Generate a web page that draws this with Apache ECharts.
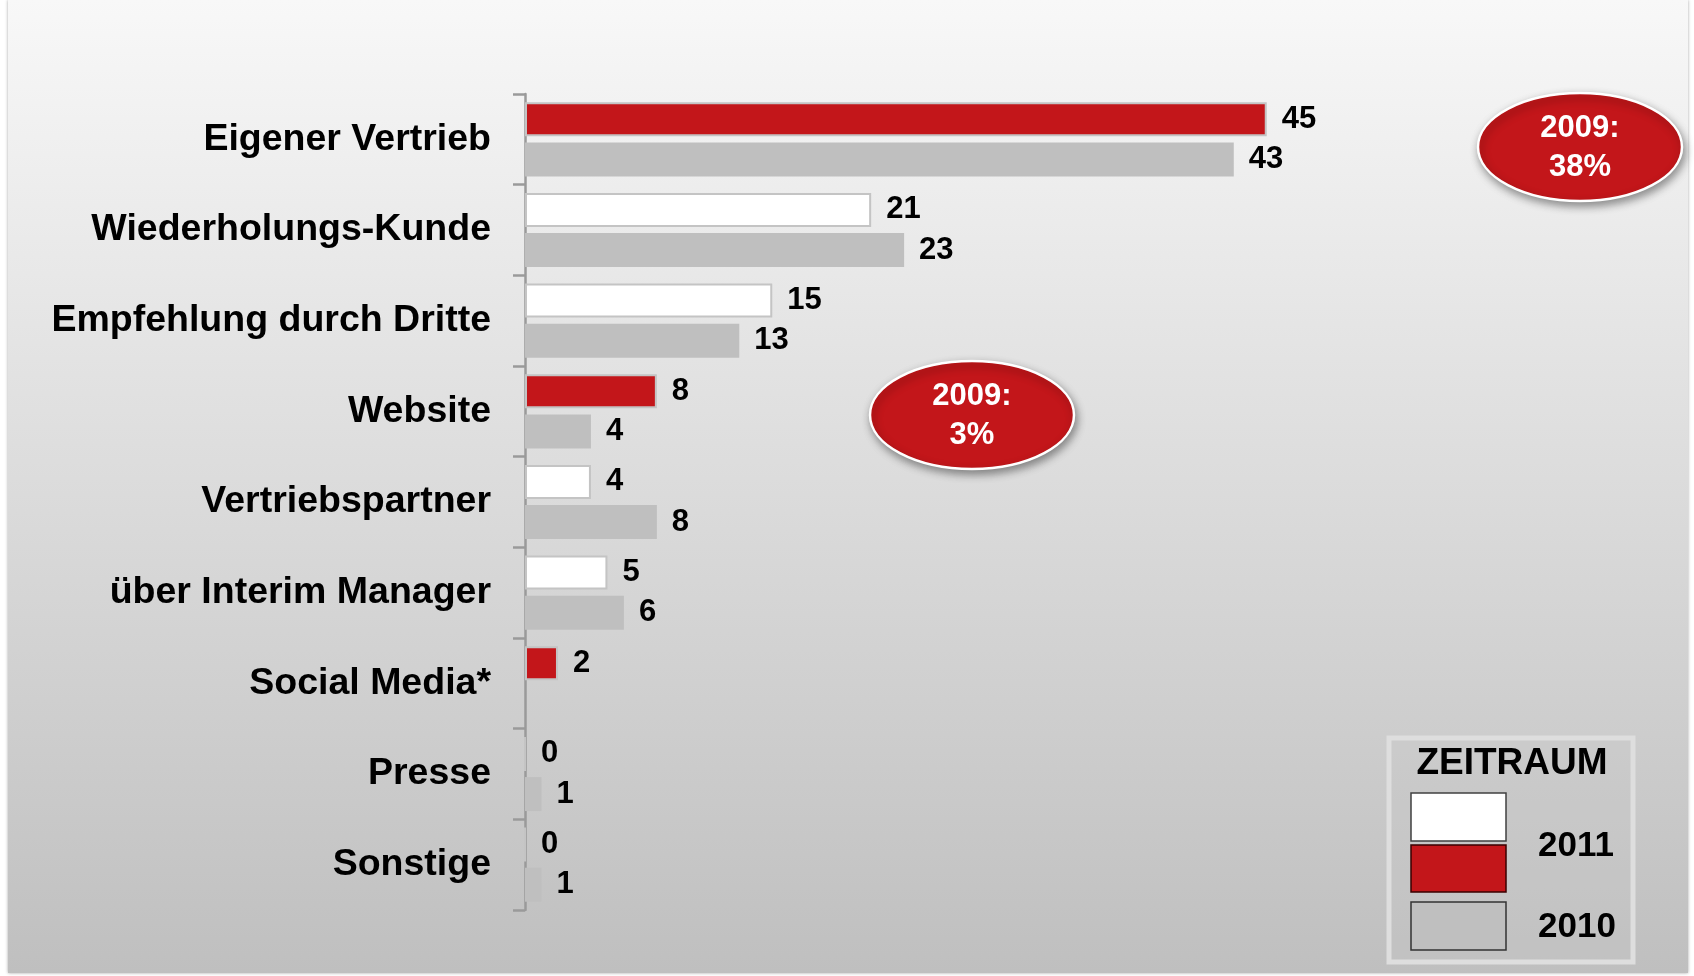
<!DOCTYPE html>
<html>
<head>
<meta charset="utf-8">
<style>
  html, body { margin: 0; padding: 0; background: #fff; }
  #chart { width: 1694px; height: 976px; }
</style>
<script src="https://cdn.jsdelivr.net/npm/echarts@6/dist/echarts.min.js"></script>
</head>
<body>
<div id="chart"></div>
<script>
const categories = ['Eigener Vertrieb', 'Wiederholungs-Kunde', 'Empfehlung durch Dritte', 'Website', 'Vertriebspartner', 'über Interim Manager', 'Social Media*', 'Presse', 'Sonstige'];
const values2011 = [45, 21, 15, 8, 4, 5, 2, 0, 0];
const values2010 = [43, 23, 13, 4, 8, 6, null, 1, 1];
const highlighted = ['Eigener Vertrieb', 'Website', 'Social Media*'];
const notes = ['2009:\n38%', '2009:\n3%'];
const legendTitle = 'ZEITRAUM';
const legendYears = ['2011', '2010'];

const FONT = "'Liberation Sans', Arial, sans-serif";
const RED = '#c3161a';
const GREY = '#bfbfbf';

const chart = echarts.init(document.getElementById('chart'));

// 2011 bars: red for the highlighted channels, white otherwise
const data2011 = values2011.map((v, i) => ({
	value: v,
	itemStyle: { color: highlighted.includes(categories[i]) ? RED : '#ffffff' },
}));

const valueLabel = {
	show: true,
	position: 'right',
	distance: 15,
	color: '#000',
	fontFamily: FONT,
	fontWeight: 'bold',
	fontSize: 31,
};

function noteEllipse(cx, cy, text) {
	return [
		{
			type: 'ellipse',
			z: 100,
			shape: { cx: cx, cy: cy, rx: 102, ry: 54 },
			style: {
				fill: RED,
				stroke: '#ffffff',
				lineWidth: 2.5,
				shadowBlur: 8,
				shadowOffsetX: 2,
				shadowOffsetY: 4,
				shadowColor: 'rgba(0,0,0,0.4)',
			},
		},
		{
			type: 'text',
			z: 101,
			x: cx,
			y: cy + 1,
			style: {
				text: text,
				fill: '#ffffff',
				font: 'bold 31px ' + FONT,
				align: 'center',
				verticalAlign: 'middle',
				lineHeight: 39,
			},
		},
	];
}

const option = {
	backgroundColor: '#ffffff',
	animation: false,
	grid: {
		left: 525,
		right: 180,
		top: 94,
		bottom: 66,
	},
	xAxis: {
		type: 'value',
		min: 0,
		max: 60,
		show: false,
	},
	yAxis: {
		type: 'category',
		inverse: true,
		data: categories,
		axisLine: {
			show: true,
			lineStyle: { color: '#9a9a9a', width: 2.5 },
		},
		axisTick: {
			show: true,
			length: 12,
			lineStyle: { color: '#9a9a9a', width: 2.5 },
		},
		axisLabel: {
			margin: 34,
			color: '#000',
			fontFamily: FONT,
			fontWeight: 'bold',
			fontSize: 37.5,
		},
	},
	series: [
		{
			name: '2011',
			type: 'bar',
			data: data2011,
			barWidth: 34,
			barGap: '18%',
			itemStyle: { borderColor: '#c4c4c4', borderWidth: 2 },
			label: valueLabel,
		},
		{
			name: '2010',
			type: 'bar',
			data: values2010,
			barWidth: 34,
			barGap: '18%',
			itemStyle: { color: GREY },
			label: valueLabel,
		},
	],
	graphic: [
		{
			type: 'rect',
			z: -10,
			silent: true,
			shape: { x: 8, y: 0, width: 1680, height: 973 },
			style: {
				fill: new echarts.graphic.LinearGradient(0, 0, 0, 1, [
					{ offset: 0, color: '#f8f8f8' },
					{ offset: 1, color: '#bfbfbf' },
				]),
				shadowBlur: 3,
				shadowColor: 'rgba(0,0,0,0.35)',
			},
		},
		...noteEllipse(1580, 147, notes[0]),
		...noteEllipse(972, 415, notes[1]),
		// legend box
		{
			type: 'rect',
			z: 100,
			shape: { x: 1389, y: 738, width: 244, height: 224 },
			style: { fill: 'rgba(200,200,200,0.25)', stroke: '#dedede', lineWidth: 5 },
		},
		{
			type: 'text',
			z: 101,
			x: 1512,
			y: 764,
			style: {
				text: legendTitle,
				fill: '#000',
				font: 'bold 37px ' + FONT,
				align: 'center',
				verticalAlign: 'middle',
			},
		},
		{
			type: 'rect',
			z: 101,
			shape: { x: 1411, y: 793, width: 95, height: 48 },
			style: { fill: '#ffffff', stroke: '#404040', lineWidth: 1.5 },
		},
		{
			type: 'rect',
			z: 101,
			shape: { x: 1411, y: 845, width: 95, height: 47 },
			style: { fill: RED, stroke: '#3a0000', lineWidth: 1.5 },
		},
		{
			type: 'rect',
			z: 101,
			shape: { x: 1411, y: 902, width: 95, height: 48 },
			style: { fill: GREY, stroke: '#333333', lineWidth: 1.5 },
		},
		{
			type: 'text',
			z: 101,
			x: 1576,
			y: 846,
			style: {
				text: legendYears[0],
				fill: '#000',
				font: 'bold 35px ' + FONT,
				align: 'center',
				verticalAlign: 'middle',
			},
		},
		{
			type: 'text',
			z: 101,
			x: 1577,
			y: 927,
			style: {
				text: legendYears[1],
				fill: '#000',
				font: 'bold 35px ' + FONT,
				align: 'center',
				verticalAlign: 'middle',
			},
		},
	],
};

chart.setOption(option);
</script>
</body>
</html>
